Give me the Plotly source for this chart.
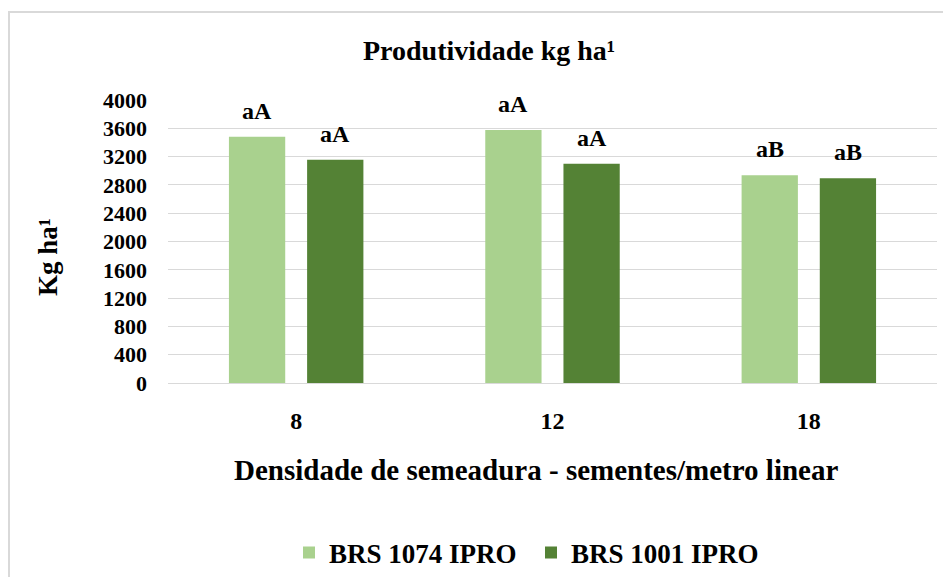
import plotly.graph_objects as go

categories = ["8", "12", "18"]
brs1074 = [3480, 3575, 2935]
brs1001 = [3155, 3100, 2895]
labels1074 = ["aA", "aA", "aB"]
labels1001 = ["aA", "aA", "aB"]
series_names = ["BRS 1074 IPRO", "BRS 1001 IPRO"]
y_ticks = list(range(0, 4001, 400))

FONT = "Liberation Serif, DejaVu Serif, Times New Roman, serif"
LIGHT = "#a9d18e"
DARK = "#548235"
GRID = "#d9d9d9"

W, H = 951, 577
OFF = 8  # page body margin offset
ML, MR, MT, MB = 168, 14, 100, 194
PW, PH = W - ML - MR, H - MT - MB


def px_x(x):
    return (x - ML) / PW


def px_y(y):
    return (H - MB - y) / PH


BARGAP = 0.39
BARGROUPGAP = 0.28

fig = go.Figure()
fig.add_trace(go.Bar(x=categories, y=brs1074, name=series_names[0],
                     marker=dict(color=LIGHT, line=dict(width=0))))
fig.add_trace(go.Bar(x=categories, y=brs1001, name=series_names[1],
                     marker=dict(color=DARK, line=dict(width=0))))

off = (1 - BARGAP) / 4
lab_font = dict(family=FONT, size=24, color="black")
annotations = []
for i, (v, t) in enumerate(zip(brs1074, labels1074)):
    annotations.append(dict(x=i - off, y=v, xref="x", yref="y", text="<b>%s</b>" % t,
                            showarrow=False, yanchor="middle", yshift=26, font=lab_font))
for i, (v, t) in enumerate(zip(brs1001, labels1001)):
    annotations.append(dict(x=i + off, y=v, xref="x", yref="y", text="<b>%s</b>" % t,
                            showarrow=False, yanchor="middle", yshift=26, font=lab_font))

annotations.append(dict(x=px_x(489), y=px_y(50), xref="paper", yref="paper",
                        text="<b>Produtividade kg ha¹</b>", showarrow=False,
                        xanchor="center", yanchor="middle",
                        font=dict(family=FONT, size=28, color="black")))
annotations.append(dict(x=px_x(48), y=px_y(257), xref="paper", yref="paper",
                        text="<b>Kg ha¹</b>", showarrow=False, textangle=-90,
                        xanchor="center", yanchor="middle",
                        font=dict(family=FONT, size=27, color="black")))
annotations.append(dict(x=px_x(536), y=px_y(470), xref="paper", yref="paper",
                        text="<b>Densidade de semeadura - sementes/metro linear</b>", showarrow=False,
                        xanchor="center", yanchor="middle",
                        font=dict(family=FONT, size=29, color="black")))

fig.update_layout(
    width=W, height=H,
    font=dict(family=FONT),
    margin=dict(l=ML - OFF, r=MR + OFF, t=MT - OFF, b=MB + OFF, autoexpand=False),
    paper_bgcolor="white", plot_bgcolor="white",
    barmode="group", bargap=BARGAP, bargroupgap=BARGROUPGAP,
    annotations=annotations,
    showlegend=True,
    legend=dict(orientation="h", x=px_x(531), y=px_y(553), xanchor="center", yanchor="middle",
                font=dict(family=FONT, size=27, color="black", weight="bold"),
                itemwidth=30, entrywidth=197, tracegroupgap=0, bgcolor="rgba(0,0,0,0)"),
    xaxis=dict(type="category", showline=True, linecolor=GRID, linewidth=1,
               ticks="", showgrid=False, ticklabelstandoff=16,
               tickfont=dict(family=FONT, size=24, color="black", weight="bold")),
    yaxis=dict(range=[0, 4000], tickvals=y_ticks, showgrid=True, gridcolor=GRID, gridwidth=1,
               zeroline=False, showline=False, ticks="", ticklabelstandoff=20,
               tickfont=dict(family=FONT, size=22, color="black", weight="bold")),
    shapes=[dict(type="rect", xref="paper", yref="paper",
                 x0=px_x(9), x1=px_x(975), y0=px_y(600), y1=px_y(12),
                 line=dict(color=GRID, width=2), fillcolor="rgba(0,0,0,0)", layer="below")],
)

fig.write_html("out.html")
